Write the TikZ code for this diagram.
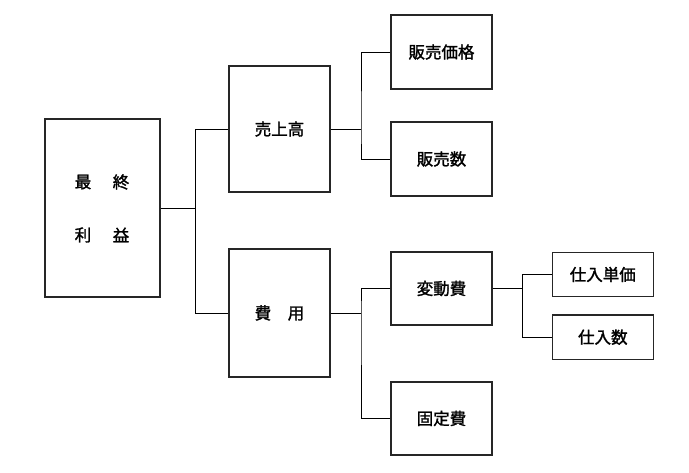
\documentclass[tikz,border=0pt]{standalone}
\usepackage{fontspec}
\newfontfamily\jp[FakeBold=1.6]{Noto Sans CJK JP}
\begin{document}
\begin{tikzpicture}[x=1pt,y=-1pt,
  box/.style={draw=black!85,line width=1.3pt,inner sep=0pt,font=\jp\fontsize{16.5}{18}\selectfont},
  lbl/.style={inner sep=0pt,font=\jp\fontsize{16.5}{18}\selectfont},
  conn/.style={draw=black,line width=0.8pt}]
\useasboundingbox[fill=white] (0,0) rectangle (689,473);
% boxes: center, width, height
\node[box,minimum width=115pt,minimum height=178pt] (profit) at (102.5,208) {};
\node[lbl] (p1) at (83,182) {最};
\node[lbl] (p2) at (121,182) {終};
\node[lbl] (p3) at (83,235) {利};
\node[lbl] (p4) at (121,235) {益};
\node[box,minimum width=101pt,minimum height=126pt] (sales) at (279.5,129) {売上高};
\node[box,minimum width=101pt,minimum height=128pt] (cost) at (279.5,313) {費\hspace{1em}用};
\node[box,minimum width=101pt,minimum height=74pt] (price) at (441.5,52) {販売価格};
\node[box,minimum width=101pt,minimum height=74pt] (qty) at (441.5,159) {販売数};
\node[box,minimum width=101pt,minimum height=73pt] (var) at (441.5,288.5) {変動費};
\node[box,minimum width=101pt,minimum height=73pt] (fix) at (441.5,418.5) {固定費};
\node[box,minimum width=101pt,minimum height=44.5pt] (unit) at (602.8,274.5) {仕入単価};
\node[box,minimum width=101pt,minimum height=44.5pt] (pqty) at (602.8,337.2) {仕入数};
% junctions
\coordinate (j1) at (195.5,208);
\coordinate (j2) at (361,129);
\coordinate (j3) at (361,313);
\coordinate (j4) at (522.5,288.5);
\draw[conn] (profit.east) -- (j1);
\draw[conn] (sales.west) -| (j1) |- (cost.west);
\draw[conn] (sales.east) -- (j2);
\draw[conn] (price.west) -| (j2) |- (qty.west);
\draw[conn] (cost.east) -- (j3);
\draw[conn] (var.west) -| (j3) |- (fix.west);
\draw[conn] (var.east) -- (j4);
\draw[conn] (unit.west) -| (j4) |- (pqty.west);
\end{tikzpicture}
\end{document}
